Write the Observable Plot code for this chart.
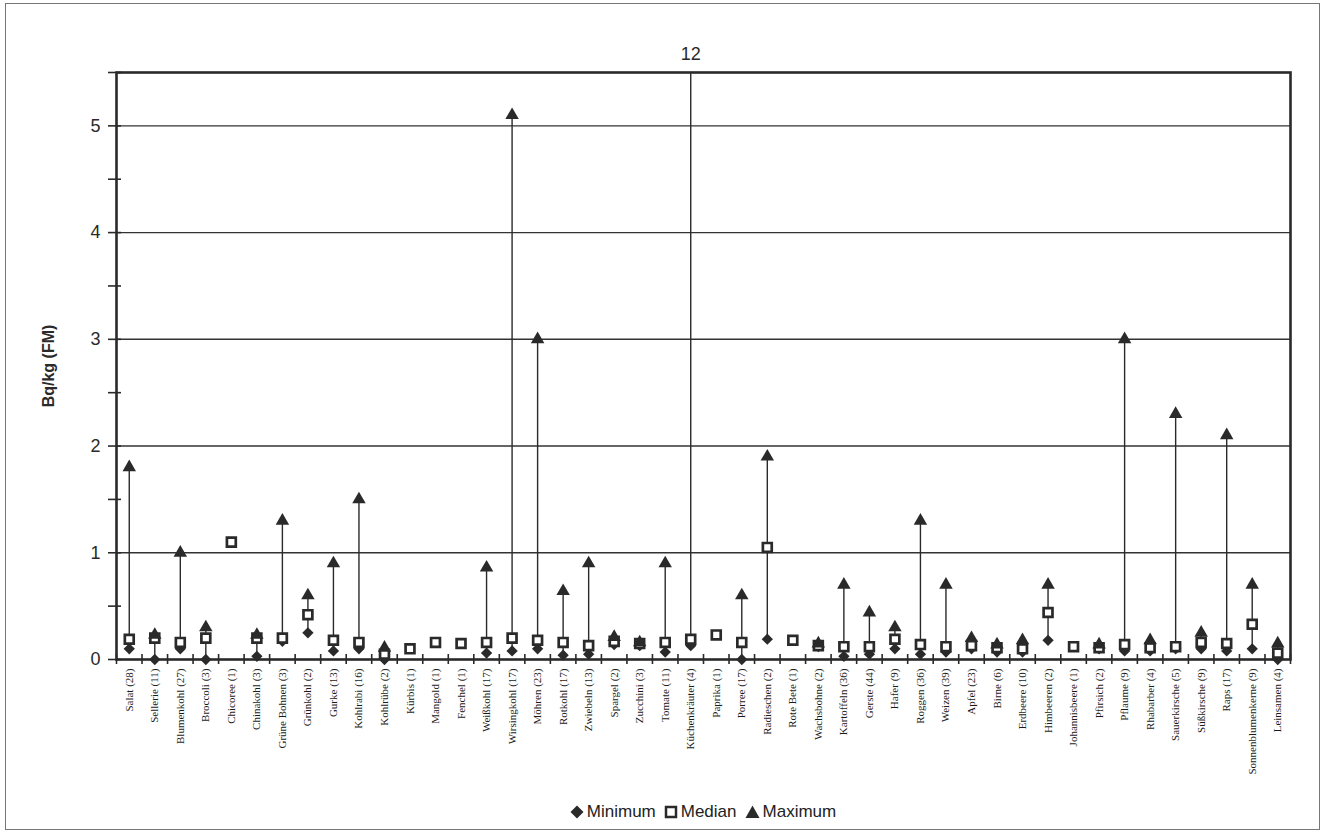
<!DOCTYPE html>
<html><head><meta charset="utf-8">
<script src="https://cdn.jsdelivr.net/npm/d3@7"></script>
<script src="https://cdn.jsdelivr.net/npm/@observablehq/plot@0.6"></script>
<style>
body{margin:0;background:#fff;}
#wrap{position:relative;width:1324px;height:833px;font-family:"Liberation Sans",Arial,sans-serif;overflow:hidden;}
#border{position:absolute;left:5px;top:3px;width:1315px;height:827px;border:1.5px solid #777;box-sizing:border-box;}
#chart{position:absolute;left:0;top:0;}
#legend{position:absolute;left:116px;width:1174px;top:801px;text-align:center;font-size:17px;color:#222;line-height:22px;}
#legend span{display:inline-flex;align-items:center;margin:0 4px;}
#legend svg{margin-right:3px;}
</style></head><body>
<div id="wrap"><div id="border"></div><div id="chart"></div><div id="legend"></div></div>
<script>
const categories = ["Salat (28)","Sellerie (11)","Blumenkohl (27)","Broccoli (3)","Chicoree (1)","Chinakohl (3)","Grüne Bohnen (3)","Grünkohl (2)","Gurke (13)","Kohlrabi (16)","Kohlrübe (2)","Kürbis (1)","Mangold (1)","Fenchel (1)","Weißkohl (17)","Wirsingkohl (17)","Möhren (23)","Rotkohl (17)","Zwiebeln (13)","Spargel (2)","Zucchini (3)","Tomate (11)","Küchenkräuter (4)","Paprika (1)","Porree (17)","Radieschen (2)","Rote Bete (1)","Wachsbohne (2)","Kartoffeln (36)","Gerste (44)","Hafer (9)","Roggen (36)","Weizen (39)","Apfel (23)","Birne (6)","Erdbeere (10)","Himbeeren (2)","Johannisbeere (1)","Pfirsich (2)","Pflaume (9)","Rhabarber (4)","Sauerkirsche (5)","Süßkirsche (9)","Raps (17)","Sonnenblumenkerne (9)","Leinsamen (4)"];
const minimum = [0.1,0,0.1,0,null,0.03,0.17,0.25,0.08,0.1,0,null,null,null,0.06,0.08,0.1,0.04,0.05,0.14,0.13,0.07,0.13,null,0,0.19,null,0.12,0.03,0.05,0.1,0.05,0.07,0.1,0.07,0.07,0.18,null,0.1,0.08,0.08,0.1,0.1,0.08,0.1,0];
const median = [0.19,0.2,0.16,0.2,1.1,0.2,0.2,0.42,0.18,0.16,0.05,0.1,0.16,0.15,0.16,0.2,0.18,0.16,0.13,0.17,0.15,0.16,0.19,0.23,0.16,1.05,0.18,0.13,0.12,0.12,0.19,0.14,0.12,0.13,0.11,0.1,0.44,0.12,0.11,0.14,0.11,0.12,0.16,0.15,0.33,0.06];
const maximum = [1.8,0.23,1.0,0.3,null,0.23,1.3,0.6,0.9,1.5,0.11,null,null,null,0.86,5.1,3.0,0.64,0.9,0.21,0.16,0.9,12,null,0.6,1.9,null,0.15,0.7,0.44,0.3,1.3,0.7,0.2,0.14,0.18,0.7,null,0.14,3.0,0.18,2.3,0.25,2.1,0.7,0.15];
const yTickValues = [0,1,2,3,4,5];
const yLabel = "Bq/kg (FM)";
const legendItems = ["Minimum","Median","Maximum"];

const yMax = 5.5;
const n = categories.length;
const ink = "#2a2a2a";
const rows = categories.map((c,i)=>({i:i+0.5, category:c, min:minimum[i], med:median[i], max:maximum[i]}));
const diamond = {draw(ctx,size){const r=Math.sqrt(size/2);ctx.moveTo(0,-r);ctx.lineTo(r,0);ctx.lineTo(0,r);ctx.lineTo(-r,0);ctx.closePath();}};
const halfSteps = d3.range(0, yMax+0.001, 0.5);

const chart = Plot.plot({
  width:1324, height:790,
  marginLeft:116, marginRight:34, marginTop:72, marginBottom:131,
  x:{domain:[0,n], axis:null, label:null},
  y:{domain:[0,yMax], axis:null, label:null},
  style:{fontFamily:"'Liberation Sans', Arial, sans-serif", background:"transparent", color:ink},
  marks:[
    Plot.ruleY(yTickValues.filter(d=>d>0), {stroke:"#333", strokeWidth:1.4}),
    Plot.ruleX(rows.filter(d=>d.min!=null && d.max!=null), {x:"i", y1:"min", y2:"max", stroke:ink, strokeWidth:1.4, clip:true}),
    Plot.ruleY(halfSteps, {y:d=>d, x1:()=>0, x2:()=>0, insetLeft:-8, insetRight:-5, stroke:ink, strokeWidth:1.6}),
    Plot.ruleX(d3.range(0,n+1), {x:d=>d, y1:()=>0, y2:()=>0, insetTop:-5, insetBottom:-5, stroke:ink, strokeWidth:1.6}),
    Plot.frame({stroke:ink, strokeWidth:2.6}),
    Plot.axisY({ticks:yTickValues, tickSize:0, tickPadding:16, fontSize:18, label:null, tickFormat:d=>String(d)}),
    Plot.axisX({ticks:rows.map(d=>d.i), tickSize:0, tickPadding:9, tickRotate:-90, fontSize:11, label:null, fill:"#1a1a1a", fontFamily:"'Liberation Serif', 'Times New Roman', serif", tickFormat:d=>categories[Math.floor(d)]}),
    Plot.text([yLabel], {frameAnchor:"left", dx:-68, rotate:-90, textAnchor:"middle", fontWeight:"bold", fontSize:16, text:d=>d}),
    Plot.text(rows.filter(d=>d.max!=null && d.max>yMax), {x:"i", frameAnchor:"top", dy:-25, fontSize:18, text:d=>String(d.max)}),
    Plot.dot(rows.filter(d=>d.min!=null), {x:"i", y:"min", symbol:diamond, r:4.5, fill:ink, stroke:"none"}),
    Plot.dot(rows.filter(d=>d.med!=null), {x:"i", y:"med", symbol:"square", r:5, fill:"white", stroke:ink, strokeWidth:2.7}),
    Plot.dot(rows.filter(d=>d.max!=null && d.max<=yMax), {x:"i", y:"max", symbol:"triangle", r:5, fill:ink, stroke:"none"})
  ]
});
document.getElementById("chart").appendChild(chart);

const icons = [
  '<svg width="14" height="14" viewBox="-7 -7 14 14"><path d="M0,-6.5L6.5,0L0,6.5L-6.5,0Z" fill="'+ink+'"/></svg>',
  '<svg width="14" height="14" viewBox="-7 -7 14 14"><rect x="-5" y="-5" width="10" height="10" fill="white" stroke="'+ink+'" stroke-width="2.5"/></svg>',
  '<svg width="15" height="14" viewBox="-7.5 -7 15 14"><path d="M0,-6.5L7,6L-7,6Z" fill="'+ink+'"/></svg>'
];
document.getElementById("legend").innerHTML = legendItems.map((t,k)=>'<span>'+icons[k]+t+'</span>').join("");
</script>
</body></html>
